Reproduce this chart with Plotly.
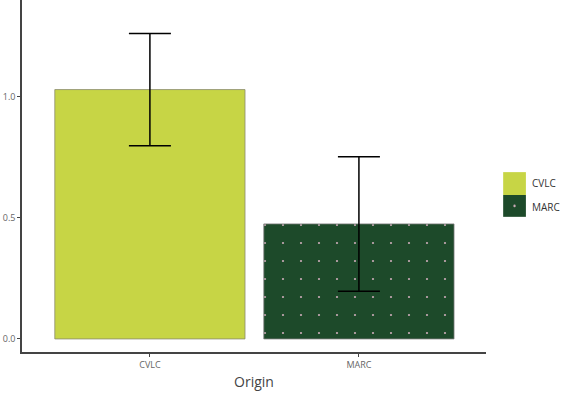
import plotly.graph_objects as go

categories = ["CVLC", "MARC"]
means = [1.03, 0.475]
errors = [0.232, 0.278]
bar_colors = ["#c7d545", "#1d4a2a"]
y_tickvals = [0.0, 0.5, 1.0]
y_ticktext = ["0.0", "0.5", "1.0"]

fig = go.Figure()
fig.add_trace(go.Bar(
    x=[categories[0]], y=[means[0]],
    error_y=dict(type="data", array=[errors[0]], color="black", thickness=1.5, width=21),
    marker=dict(color=bar_colors[0], line=dict(color="#8a8a70", width=0.8)),
    width=0.91, showlegend=False,
))
fig.add_trace(go.Bar(
    x=[categories[1]], y=[means[1]],
    error_y=dict(type="data", array=[errors[1]], color="black", thickness=1.5, width=21),
    marker=dict(color=bar_colors[1], line=dict(color="#7a7a7a", width=0.8),
                pattern=dict(shape=".", fgcolor="#c9a9b6", bgcolor=bar_colors[1], size=18,
                             solidity=0.012, fillmode="replace")),
    width=0.91, showlegend=False,
))

# custom legend keys
fig.add_shape(type="rect", xref="paper", yref="paper", x0=1.037, x1=1.086, y0=0.446, y1=0.511,
              fillcolor=bar_colors[0], line=dict(width=0))
fig.add_shape(type="rect", xref="paper", yref="paper", x0=1.037, x1=1.086, y0=0.384, y1=0.446,
              fillcolor=bar_colors[1], line=dict(width=0))
fig.add_shape(type="circle", xref="paper", yref="paper", x0=1.059, x1=1.064, y0=0.411, y1=0.419,
              fillcolor="#c9a9b6", line=dict(width=0))
fig.add_annotation(text=categories[0], xref="paper", yref="paper", x=1.095, y=0.48,
                   xanchor="left", showarrow=False, font=dict(size=10, color="#333333"))
fig.add_annotation(text=categories[1], xref="paper", yref="paper", x=1.095, y=0.412,
                   xanchor="left", showarrow=False, font=dict(size=10, color="#333333"))

fig.update_layout(
    width=561, height=400,
    margin=dict(l=22, r=75, t=0, b=48),
    paper_bgcolor="white", plot_bgcolor="white",
    font=dict(family="Open Sans", color="#555555"),
    showlegend=False,
)
fig.update_xaxes(
    range=[-0.612, 1.608], showline=True, linecolor="#444444", linewidth=1.5,
    ticks="outside", ticklen=3, tickcolor="#444444", tickfont=dict(size=9, color="#666666"),
    title=dict(text="Origin", font=dict(size=14, color="#444444"), standoff=8),
    showgrid=False, zeroline=False, automargin=False,
)
fig.update_yaxes(
    range=[-0.054, 1.40], showline=True, linecolor="#444444", linewidth=1.5,
    tickvals=y_tickvals, ticktext=y_ticktext,
    ticks="outside", ticklen=3, tickcolor="#444444", tickfont=dict(size=9, color="#666666"),
    showgrid=False, zeroline=False, automargin=False,
)

fig.write_html("out.html")
